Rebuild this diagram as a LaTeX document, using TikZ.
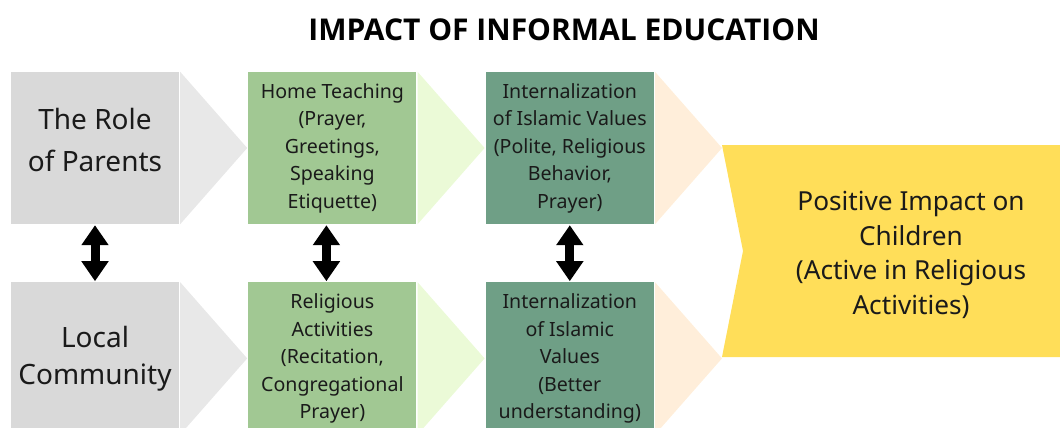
\documentclass[tikz,border=0pt]{standalone}
\usepackage{fontspec}
\setmainfont{Noto Sans}
\newfontfamily\headfont{Open Sans}
\usepackage{tikz}
\usetikzlibrary{arrows.meta,positioning}
\definecolor{cGray}{HTML}{D9D9D9}
\definecolor{cGrayLt}{HTML}{E8E8E8}
\definecolor{cGreen}{HTML}{A1C893}
\definecolor{cGreenLt}{HTML}{EBFAD7}
\definecolor{cSage}{HTML}{6F9F86}
\definecolor{cPeach}{HTML}{FFEEDA}
\definecolor{cYellow}{HTML}{FFDE59}
\definecolor{cInk}{HTML}{1A1A1A}
\tikzset{
  card/.style={fill=#1,minimum width=168pt,minimum height=152pt,inner sep=0pt,align=center,text=cInk,
    font=\fontsize{19.6}{27.5}\selectfont},
  bigcard/.style={card=#1,font=\fontsize{28}{37}\selectfont},
  link/.style={{Triangle[width=26pt,length=20pt]}-{Triangle[width=26pt,length=20pt]},line width=9pt,black},
  heading/.style={font=\headfont\fontsize{30}{36}\selectfont\bfseries,text=black},
}

\begin{document}
\begin{tikzpicture}[x=1pt,y=-1pt,node distance=69pt]
  \useasboundingbox (0,0) rectangle (1060,428);
  \clip (0,0) rectangle (1060,428);
  \node[heading] (title) at (564,30) {IMPACT OF INFORMAL EDUCATION};
  % top row (wider leading, text sits a bit high)
  \node[bigcard=cGray,font=\fontsize{28}{42}\selectfont,text depth=17pt] (parents) at (95,148) {The Role\\of Parents};
  \node[card=cGreen,right=of parents] (home) {Home Teaching\\(Prayer,\\Greetings,\\Speaking\\Etiquette)};
  \node[card=cSage,right=of home] (values) {Internalization\\of Islamic Values\\(Polite, Religious\\Behavior,\\Prayer)};
  % bottom row
  \node[bigcard=cGray,below=58pt of parents] (community) {Local\\Community};
  \node[card=cGreen,right=of community] (activities) {Religious\\Activities\\(Recitation,\\Congregational\\Prayer)};
  \node[card=cSage,right=of activities] (understanding) {Internalization\\of Islamic\\Values\\(Better\\understanding)};
  % chevrons after each card
  \foreach \n/\c in {parents/cGrayLt,home/cGreenLt,values/cPeach,community/cGrayLt,activities/cGreenLt,understanding/cPeach}
    \fill[\c] ([xshift=1pt]\n.north east) -- ([xshift=68pt]\n.east) -- ([xshift=1pt]\n.south east) -- cycle;
  % result
  \fill[cYellow] (722,145) -- (1062,145) -- (1062,357) -- (722,357) -- (743,251) -- cycle;
  \node[align=center,text=cInk,font=\fontsize{26.2}{34.7}\selectfont] (impact) at (911,255)
    {Positive Impact on\\Children\\(Active in Religious\\Activities)};
  % two-way links between rows
  \draw[link] ([yshift=-1pt]parents.south) -- ([yshift=1pt]community.north);
  \draw[link] ([xshift=-6pt,yshift=-1pt]home.south) -- ([xshift=-6pt,yshift=1pt]activities.north);
  \draw[link] ([yshift=-1pt]values.south) -- ([yshift=1pt]understanding.north);
\end{tikzpicture}
\end{document}
